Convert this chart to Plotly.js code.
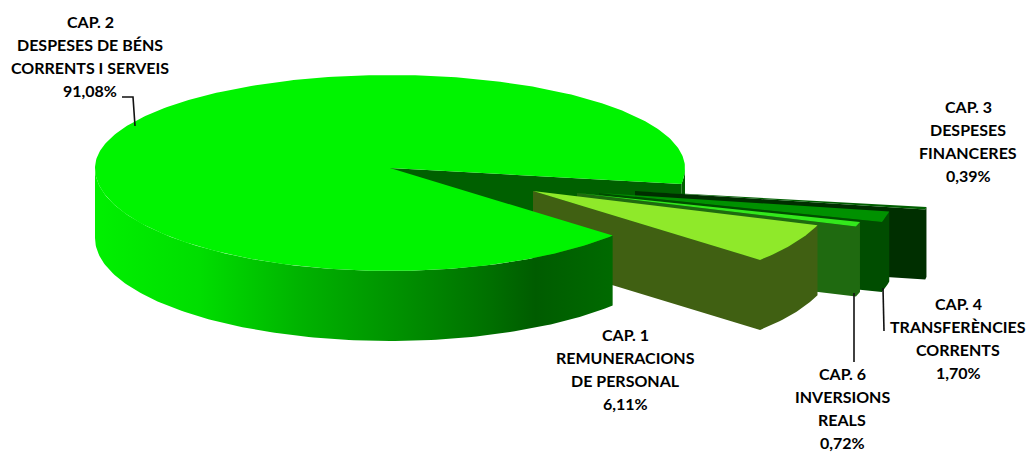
<!DOCTYPE html>
<html><head><meta charset="utf-8">
<script src="https://cdn.plot.ly/plotly-3.0.1.min.js"></script>
<style>html,body{margin:0;padding:0;background:#fff}</style></head>
<body><div id="chart" style="width:1029px;height:452px"></div>
<script>
// --- data ---
const chapters = ['CAP. 2', 'CAP. 1', 'CAP. 6', 'CAP. 4', 'CAP. 3'];
const shares = [91.08, 6.11, 0.72, 1.70, 0.39];
const shareText = ['91,08%', '6,11%', '0,72%', '1,70%', '0,39%'];
const names = [
  ['DESPESES DE BÉNS', 'CORRENTS I SERVEIS'],
  ['REMUNERACIONS', 'DE PERSONAL'],
  ['INVERSIONS', 'REALS'],
  ['TRANSFERÈNCIES', 'CORRENTS'],
  ['DESPESES', 'FINANCERES']
];
// --- styles and projection ---
const topColor = ['#00f400', '#8fe92a', '#33e81c', '#009100', '#005f00'];
const sideColor = ['#006000', '#406012', '#1f6a10', '#004d00', '#002f00'];
const pullX = [0, 143, 187, 209, 245];
const pullY = [0, 23, 25, 25, 23];
const sizeK = [1, 1.02, 1, 1, 1];
const labelX = [90, 625, 842, 958, 968];
const labelY = [21, 334, 373, 303, 106];
const leaders = [[[122,133,135],[97,97,126]], [[854,854],[293,362]], [[883,884],[288,331]]];
const cx = 390, cy = 168, rx = 295, ryUp = 93, ryDown = 103, depth = 70, startDeg = 41;

const rad = d => d * Math.PI / 180;
const px = (t, o) => cx + pullX[o] + sizeK[o] * rx * Math.cos(rad(t));
const py = (t, o) => { const s = Math.sin(rad(t)); return cy + pullY[o] + sizeK[o] * (s > 0 ? ryDown : ryUp) * s; };
const arc = (a, b, o) => { const n = Math.max(2, Math.ceil(Math.abs(b - a))); const r = [];
  for (let i = 0; i <= n; i++) { const t = a + (b - a) * i / n; r.push([px(t, o), py(t, o)]); } return r; };
const poly = (pts, color, extra) => Object.assign({
  type: 'scatter', mode: 'lines', x: pts.map(p => p[0]), y: pts.map(p => p[1]),
  fill: 'toself', fillcolor: color, line: {width: 0, color: color}, hoverinfo: 'skip', showlegend: false
}, extra || {});
const drop = pts => pts.map(p => [p[0], p[1] + depth]);

const deg = shares.map(s => s * 3.6);
const mainEnd = startDeg + deg[0];
const traces = [];
// far cut wall and the small piece of outer wall right of it
const farEnd = arc(mainEnd, mainEnd, 0)[0];
traces.push(poly([[cx, cy], farEnd, [farEnd[0], farEnd[1] + depth], [cx, cy + depth]], sideColor[0]));
const rim = arc(0, mainEnd - 360, 0);
traces.push(poly(rim.concat(drop(rim).reverse()), sideColor[0]));
// exploded slices, back to front
const bounds = []; let a = startDeg;
for (let i = 1; i < shares.length; i++) { bounds[i] = [a - deg[i], a]; a -= deg[i]; }
[4, 3, 2, 1].forEach(i => {
  const [t0, t1] = bounds[i];
  const outer = arc(t0, t1, i);
  const apex = [cx + pullX[i], cy + pullY[i]];
  // outer wall and near cut wall as one shape, so no seam shows between them
  const shell = outer.concat([apex, [apex[0], apex[1] + depth]], drop(outer).reverse());
  traces.push(poly(shell, sideColor[i]));
  traces.push(poly([apex].concat(outer), topColor[i]));
});
// main slice: outer wall with horizontal shading, then its top
const front = arc(startDeg, 180, 0);
traces.push(poly(front.concat(drop(front).reverse()), '#00c000', {
  fillgradient: {type: 'horizontal', start: 96, stop: 613, colorscale: [
    [0, '#00f000'], [0.2, '#00de00'], [0.39, '#00b400'], [0.59, '#009000'],
    [0.76, '#007000'], [0.85, '#005c00'], [1, '#006a00']]}
}));
traces.push(poly([[cx, cy]].concat(arc(startDeg, mainEnd, 0)), topColor[0]));
// leader lines
leaders.forEach(l => traces.push({type: 'scatter', mode: 'lines', x: l[0], y: l[1],
  line: {color: '#111', width: 1.6}, hoverinfo: 'skip', showlegend: false}));

// labels
const font = {family: 'Lato, Carlito, sans-serif', size: 16, color: '#000'};
const annotations = [];
chapters.forEach((c, i) => {
  [c, names[i][0], names[i][1], shareText[i]].forEach((txt, k) => annotations.push({
    x: labelX[i], y: labelY[i] + k * 23, xref: 'x', yref: 'y', text: '<b>' + txt + '</b>',
    showarrow: false, xanchor: 'center', yanchor: 'middle', font: font, borderpad: 0
  }));
});
const hidden = {visible: false, fixedrange: true};
Plotly.newPlot('chart', traces, {
  width: 1029, height: 452, margin: {l: 0, r: 0, t: 0, b: 0},
  paper_bgcolor: '#fff', plot_bgcolor: '#fff', showlegend: false,
  xaxis: Object.assign({range: [0, 1029]}, hidden),
  yaxis: Object.assign({range: [452, 0]}, hidden),
  annotations: annotations
}, {staticPlot: true, displayModeBar: false});
</script></body></html>
